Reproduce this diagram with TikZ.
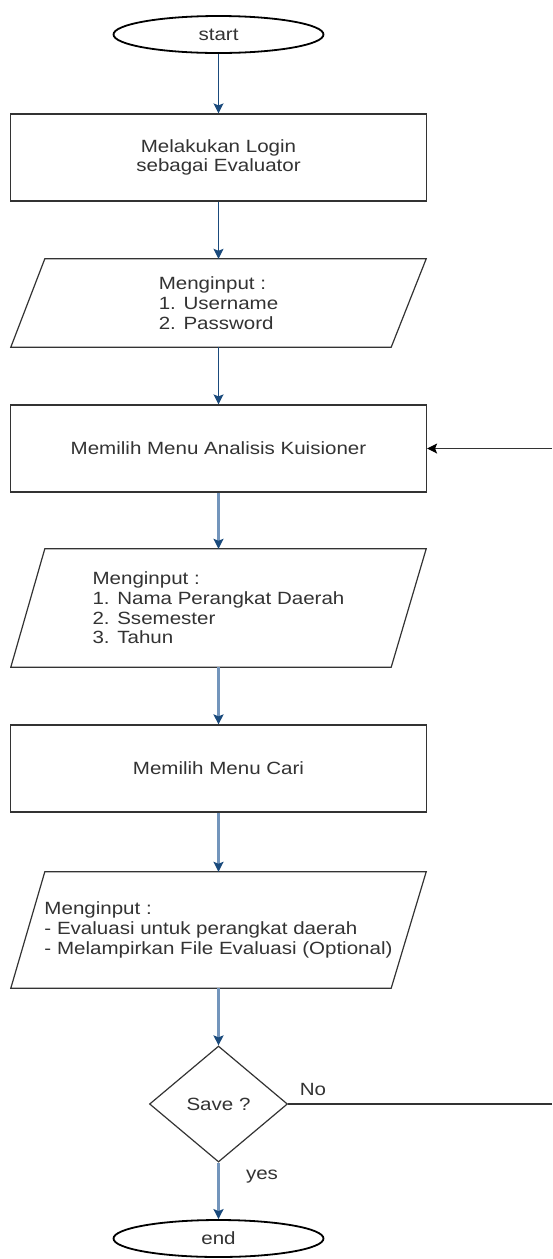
\documentclass[tikz,border=0pt]{standalone}
\usepackage{fontspec}
\setmainfont{Liberation Sans}[FakeStretch=1.16]
\usetikzlibrary{arrows.meta,shapes.geometric,calc}
\definecolor{ink}{HTML}{333333}
\definecolor{navy}{HTML}{1A4A7C}
\definecolor{paleblue}{HTML}{7395BC}
\begin{document}
\begin{tikzpicture}[x=1pt,y=-1pt,
  font=\fontsize{17.7}{19.7}\selectfont, text=ink,
  terminal/.style={ellipse, draw=black, line width=1.8pt, minimum width=210pt, minimum height=37pt, inner sep=0pt},
  process/.style={rectangle, draw=ink, line width=1.2pt, minimum width=416pt, minimum height=87pt, inner sep=0pt, align=center},
  ioarea/.style={rectangle, minimum width=415pt, inner sep=0pt, align=left},
  ioshape/.style={draw=ink, line width=1.2pt, line join=miter},
  decision/.style={diamond, draw=ink, line width=1.2pt, minimum width=138pt, minimum height=116pt, inner sep=0pt},
  flowdark/.style={draw=navy, line width=1.2pt, -{Stealth[length=10pt,width=10pt,inset=2pt,color=navy]}},
  flowpale/.style={draw=paleblue, line width=2.2pt, -{Stealth[length=10pt,width=10pt,inset=2pt,color=navy]}},
  flowback/.style={draw=ink, line width=1.2pt, -{Stealth[length=10pt,width=10pt,inset=2pt,color=black]}},
  plainline/.style={draw=ink, line width=1.2pt},
  lbl/.style={inner sep=0pt}
]
\fill[white] (0,0) rectangle (552,1259);
\useasboundingbox (0,0) rectangle (552,1259);

% terminals, processes and decision
\node[terminal] (start) at (218.5,34.5) {start};
\node[process] (login) at (218.5,157.5) {Melakukan Login\\sebagai Evaluator};
\node[process] (menu) at (218.5,448.5) {Memilih Menu Analisis Kuisioner};
\node[process] (cari) at (218.5,768.5) {Memilih Menu Cari};
\node[decision] (save) at (218.5,1104) {Save ?};
\node[terminal] (end) at (218.5,1238.5) {end};

% input / output parallelograms
\node[ioarea, minimum height=88pt] (in1) at (218.5,303) {Menginput :\\1. Username\\2. Password};
\draw[ioshape] (in1.south west) -- ($(in1.north west)+(34,0)$) -- (in1.north east) -- ($(in1.south east)+(-35,0)$) -- cycle;

\node[ioarea, minimum height=118pt] (in2) at (218.5,608) {Menginput :\\1. Nama Perangkat Daerah\\2. Ssemester\\3. Tahun};
\draw[ioshape] (in2.south west) -- ($(in2.north west)+(34,0)$) -- (in2.north east) -- ($(in2.south east)+(-35,0)$) -- cycle;

\node[ioarea, minimum height=116pt] (in3) at (218.5,930) {Menginput :\\- Evaluasi untuk perangkat daerah\\- Melampirkan File Evaluasi (Optional)};
\draw[ioshape] (in3.south west) -- ($(in3.north west)+(34,0)$) -- (in3.north east) -- ($(in3.south east)+(-35,0)$) -- cycle;

% main flow
\draw[flowdark] (start.south) -- (login.north);
\draw[flowdark] (login.south) -- (in1.north);
\draw[flowdark] (in1.south) -- (menu.north);
\draw[flowpale] (menu.south) -- (in2.north);
\draw[flowpale] (in2.south) -- (cari.north);
\draw[flowpale] (cari.south) -- (in3.north);
\draw[flowpale] (in3.south) -- (save.north);
\draw[flowpale] (save.south) -- (end.north);

% loop back on the right side
\coordinate (loopin) at (552,448.5);
\coordinate (loopout) at (552,1104);
\draw[flowback] (loopin) -- (menu.east);
\draw[plainline] (save.east) -- (loopout);

% branch labels
\node[lbl] (nolbl) at (313,1089) {No};
\node[lbl] (yeslbl) at (262,1177) {yes};
\end{tikzpicture}
\end{document}
